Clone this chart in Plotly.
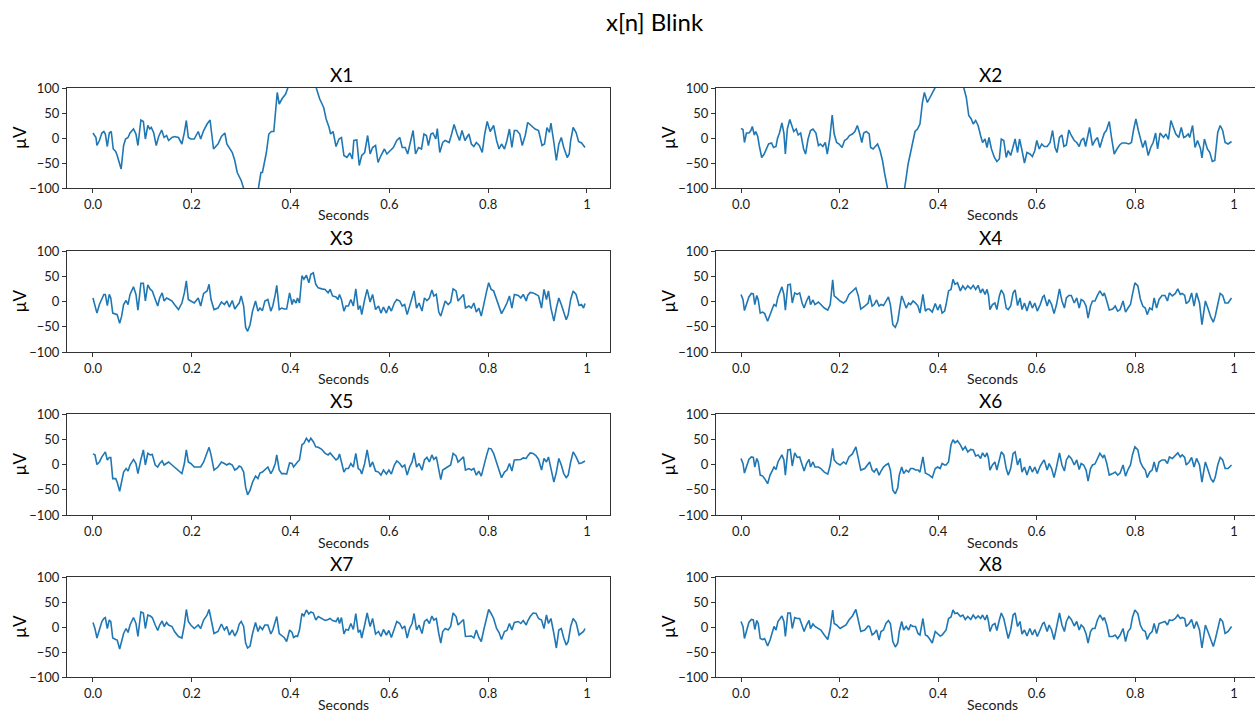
import plotly.graph_objects as go

# ---------------- data (seconds, microvolts) ----------------
t1 = [0.000,0.006,0.008,0.013,0.018,0.022,0.025,0.029,0.033,0.037,
      0.041,0.046,0.049,0.057,0.062,0.066,0.071,0.075,0.082,0.087,
      0.091,0.097,0.102,0.106,0.111,0.115,0.118,0.123,0.128,0.133,
      0.139,0.144,0.149,0.153,0.160,0.165,0.173,0.180,0.185,0.189,
      0.193,0.198,0.205,0.213,0.218,0.224,0.231,0.237,0.244,0.253,
      0.260,0.267,0.271,0.276,0.282,0.287,0.292,0.300,0.305,0.315,
      0.322,0.328,0.335,0.340,0.343,0.347,0.351,0.356,0.361,0.366,
      0.370,0.373,0.377,0.383,0.390,0.395,0.405,0.420,0.435,0.452,
      0.459,0.467,0.472,0.478,0.481,0.486,0.492,0.498,0.503,0.508,
      0.514,0.520,0.525,0.528,0.534,0.539,0.544,0.550,0.556,0.561,
      0.566,0.572,0.577,0.583,0.590,0.595,0.601,0.608,0.615,0.621,
      0.626,0.632,0.637,0.643,0.648,0.653,0.659,0.665,0.670,0.675,
      0.679,0.684,0.688,0.694,0.697,0.702,0.708,0.713,0.721,0.726,
      0.731,0.737,0.742,0.747,0.753,0.761,0.766,0.771,0.776,0.782,
      0.788,0.793,0.798,0.804,0.811,0.817,0.822,0.827,0.833,0.838,
      0.843,0.848,0.853,0.858,0.864,0.869,0.875,0.880,0.888,0.895,
      0.902,0.909,0.914,0.919,0.924,0.927,0.933,0.938,0.943,0.948,
      0.953,0.960,0.964,0.967,0.972,0.978,0.983,0.989,0.996]
x1 = [10,1,-15,-5,10,13,8,-17,10,13,
      -22,-27,-35,-62,-15,-2,1,10,18,8,
      -15,36,33,-2,25,18,21,10,-15,3,
      16,1,5,-5,1,3,1,-12,11,35,
      1,-2,-2,13,-2,15,28,36,-22,-12,
      3,10,-12,-19,-29,-45,-69,-85,-100,-140,
      -155,-130,-100,-69,-69,-49,-29,8,13,13,
      65,91,68,79,88,100,130,150,140,100,
      78,61,38,21,8,13,-17,-2,1,-35,
      -39,-30,-42,-5,-4,-55,-35,-29,5,-32,
      -19,-15,-49,-35,-22,-32,-25,-19,-5,1,
      -19,-19,-32,-5,15,-32,-19,-22,8,5,
      -15,8,10,-2,19,-29,-9,-5,-9,8,
      27,8,-5,15,-5,8,-12,-17,-9,-15,
      -29,8,33,13,25,-5,-22,-12,-22,-5,
      18,-19,15,15,8,-15,5,31,25,18,
      15,-15,-12,21,11,30,-9,-45,-12,1,
      -19,-39,-32,-5,21,11,-7,-10,-19]

t2 = [0.000,0.004,0.007,0.011,0.016,0.020,0.023,0.027,0.030,0.034,
      0.037,0.042,0.047,0.052,0.056,0.062,0.066,0.071,0.074,0.078,
      0.083,0.087,0.090,0.094,0.099,0.103,0.107,0.112,0.116,0.121,
      0.127,0.131,0.136,0.141,0.146,0.152,0.157,0.161,0.166,0.171,
      0.175,0.180,0.185,0.189,0.194,0.199,0.205,0.210,0.215,0.220,
      0.226,0.231,0.236,0.241,0.245,0.249,0.254,0.260,0.263,0.268,
      0.273,0.277,0.282,0.287,0.291,0.296,0.305,0.315,0.325,0.332,
      0.335,0.339,0.344,0.349,0.353,0.358,0.363,0.368,0.372,0.378,
      0.383,0.388,0.392,0.405,0.420,0.437,0.452,0.457,0.462,0.467,
      0.471,0.476,0.481,0.486,0.490,0.495,0.499,0.503,0.508,0.514,
      0.519,0.524,0.528,0.533,0.538,0.542,0.547,0.552,0.556,0.561,
      0.565,0.570,0.575,0.580,0.586,0.591,0.596,0.600,0.605,0.610,
      0.615,0.621,0.627,0.632,0.637,0.641,0.646,0.651,0.655,0.660,
      0.665,0.670,0.676,0.681,0.686,0.690,0.695,0.699,0.704,0.707,
      0.713,0.718,0.723,0.728,0.733,0.737,0.741,0.747,0.752,0.757,
      0.762,0.768,0.773,0.780,0.787,0.792,0.796,0.801,0.806,0.810,
      0.815,0.820,0.826,0.831,0.836,0.841,0.845,0.850,0.857,0.862,
      0.867,0.872,0.876,0.882,0.888,0.893,0.898,0.902,0.907,0.910,
      0.916,0.921,0.926,0.932,0.935,0.940,0.946,0.951,0.956,0.961,
      0.967,0.972,0.977,0.982,0.988,0.995]
x2 = [19,17,-9,10,10,15,23,6,13,3,
      -15,-39,-32,-19,-12,-10,-19,-17,-1,10,
      30,10,-32,18,37,25,13,18,6,10,
      -22,-32,-2,15,18,10,-15,-12,-17,-9,
      -32,-2,46,8,-9,-12,-19,-5,-2,5,
      8,13,25,8,-9,10,13,8,-19,-22,
      -17,-12,-25,-45,-69,-100,-140,-160,-130,-100,
      -79,-52,-29,-2,13,18,28,71,91,71,
      81,91,100,130,150,135,100,81,45,38,
      28,35,25,5,-9,-2,-19,1,-22,-39,
      -47,-42,-2,-5,-39,-25,-35,-17,-2,-29,
      -2,-25,-50,-29,-32,-37,-25,-5,-22,-12,
      -17,-17,-9,15,-19,-29,1,6,-17,-14,
      16,5,-5,-9,-17,-5,0,-17,5,21,
      -15,-5,1,-19,-2,10,15,33,-2,-32,
      -23,-14,-10,-10,-12,-9,15,38,15,-2,
      -19,-5,-35,-19,-9,10,-22,10,1,8,
      -3,35,25,8,1,21,1,3,8,1,
      25,-19,-5,-21,-40,-2,-22,-29,-47,-45,
      11,25,15,-9,-12,-7]

# shared sample times for the left-column channels X3, X5, X7
t_left = [0.000,0.004,0.008,0.013,0.018,0.022,0.025,0.029,0.033,0.036,
          0.040,0.046,0.049,0.054,0.058,0.062,0.067,0.071,0.075,0.082,
          0.087,0.091,0.097,0.102,0.106,0.111,0.116,0.120,0.126,0.131,
          0.135,0.140,0.144,0.149,0.153,0.160,0.165,0.173,0.180,0.185,
          0.189,0.193,0.198,0.205,0.213,0.218,0.224,0.231,0.235,0.239,
          0.245,0.253,0.260,0.266,0.271,0.276,0.282,0.287,0.292,0.296,
          0.300,0.305,0.309,0.313,0.318,0.323,0.329,0.334,0.338,0.343,
          0.348,0.354,0.360,0.364,0.369,0.372,0.377,0.382,0.387,0.392,
          0.398,0.403,0.406,0.411,0.414,0.418,0.423,0.427,0.432,0.437,
          0.441,0.446,0.451,0.456,0.463,0.470,0.476,0.480,0.485,0.492,
          0.496,0.499,0.503,0.508,0.512,0.517,0.522,0.527,0.532,0.537,
          0.541,0.544,0.550,0.555,0.561,0.566,0.572,0.578,0.583,0.588,
          0.594,0.599,0.604,0.610,0.615,0.621,0.626,0.631,0.636,0.641,
          0.646,0.650,0.655,0.660,0.666,0.671,0.676,0.681,0.686,0.690,
          0.695,0.700,0.704,0.708,0.713,0.719,0.724,0.729,0.735,0.739,
          0.745,0.750,0.754,0.761,0.766,0.771,0.776,0.781,0.786,0.791,
          0.797,0.801,0.806,0.811,0.817,0.822,0.827,0.833,0.838,0.843,
          0.848,0.853,0.861,0.866,0.871,0.877,0.880,0.885,0.891,0.897,
          0.902,0.908,0.913,0.918,0.922,0.927,0.933,0.938,0.943,0.948,
          0.953,0.958,0.962,0.967,0.972,0.978,0.984,0.989,0.993,0.996]
x3 = [7,-6,-23,-6,7,14,14,-8,14,7,
      -23,-26,-26,-43,-29,-6,2,-6,14,29,
      14,-17,36,36,1,33,24,21,4,-9,
      7,17,1,7,5,1,-6,-16,-3,17,
      41,4,1,-3,7,-9,16,21,34,4,
      -16,-13,-1,-6,1,-11,2,-15,-8,-3,
      11,-9,-51,-59,-46,-19,1,-19,-13,-18,
      1,4,-19,-9,14,32,-16,-13,-15,-15,
      17,-6,4,-3,7,-3,51,44,52,37,
      54,57,34,27,25,24,17,24,11,9,
      4,14,4,-19,-9,-9,4,-9,25,-16,
      -8,-26,4,24,-1,14,-16,-9,-23,-11,
      -23,-9,-19,-3,4,1,-9,-6,-26,-9,
      4,21,-13,-3,-19,7,2,7,23,11,
      14,-21,-29,-13,1,-6,-1,25,21,1,
      7,14,-13,-9,-13,-3,-21,-13,-29,-3,
      21,37,24,21,4,-13,-24,-13,-3,11,
      -13,14,12,7,14,1,12,18,17,14,
      11,-13,24,4,21,-13,-39,-13,7,-6,
      -19,-36,-26,4,21,14,-8,-6,-13,-4]
x5 = [21,19,0,5,15,22,25,9,14,14,
      -28,-28,-35,-53,-31,-15,-8,-13,-1,10,
      2,-18,10,29,-1,22,19,20,-1,-5,
      2,7,-1,2,5,-1,-5,-11,-18,2,
      29,5,2,-5,-5,-5,5,23,34,19,
      -11,-5,5,2,-1,2,-1,-11,-8,-3,
      -5,-15,-45,-60,-51,-35,-23,-28,-17,-15,
      -10,-5,-18,-11,2,19,-11,-18,-18,-19,
      3,2,-5,2,5,9,39,42,52,45,
      52,45,35,34,30,22,19,23,17,9,
      12,21,5,-15,-8,-8,2,-5,22,-8,
      -11,-19,2,29,-5,5,-13,-15,-21,-11,
      -19,-11,-19,-1,7,2,-5,-1,-21,-5,
      5,23,-5,2,-11,9,14,5,19,10,
      15,-15,-30,-11,-8,-5,-1,22,17,5,
      10,15,-11,-8,-11,-8,-21,-13,-23,-1,
      19,32,31,22,5,-8,-26,-15,-11,2,
      -13,9,10,10,13,12,17,23,22,17,
      10,-11,12,5,15,-5,-35,-15,12,-1,
      -18,-26,-21,5,25,15,2,3,5,7]
x7 = [9,-3,-22,-6,11,17,19,-3,14,11,
      -22,-25,-26,-44,-29,-13,-3,-11,4,19,
      7,-19,30,28,-3,24,22,19,4,-7,
      4,12,1,9,4,1,-9,-19,-22,4,
      35,11,4,-3,4,-3,14,24,35,14,
      -13,-9,6,-6,1,-16,-6,-18,-9,6,
      11,1,-32,-42,-38,-13,9,-9,1,-5,
      4,4,-14,-6,11,21,-13,-18,-21,-29,
      -6,-11,-21,-18,-19,-6,27,22,34,26,
      30,28,14,21,17,13,15,17,13,11,
      19,7,19,-14,-5,-6,7,-5,27,-11,
      -6,-22,4,28,1,17,-14,-9,-19,-5,
      -16,-7,-21,-3,11,7,-3,2,-22,-3,
      7,27,-6,4,-13,11,15,7,22,14,
      17,-13,-32,-9,-3,-6,1,28,21,4,
      11,15,-19,-19,-18,-22,-6,-21,-29,-6,
      21,35,27,17,-3,-11,-25,-9,-7,7,
      -6,9,11,7,13,4,12,21,28,27,
      17,14,-3,24,7,17,-13,-42,-6,-3,
      -22,-36,-29,1,17,9,-16,-13,-9,-3]

# shared sample times for the right-column channels X4, X6, X8
t_right = [0.000,0.004,0.007,0.012,0.016,0.021,0.025,0.028,0.032,0.035,
           0.039,0.044,0.048,0.054,0.059,0.064,0.067,0.071,0.075,0.083,
           0.087,0.090,0.095,0.100,0.104,0.109,0.114,0.119,0.124,0.128,
           0.133,0.138,0.141,0.146,0.150,0.157,0.162,0.169,0.176,0.181,
           0.186,0.189,0.194,0.201,0.208,0.213,0.219,0.226,0.233,0.238,
           0.243,0.251,0.258,0.261,0.266,0.270,0.275,0.280,0.284,0.289,
           0.294,0.299,0.303,0.308,0.313,0.318,0.321,0.326,0.330,0.335,
           0.340,0.344,0.349,0.354,0.359,0.363,0.369,0.374,0.378,0.382,
           0.388,0.394,0.399,0.404,0.408,0.413,0.416,0.421,0.426,0.430,
           0.434,0.439,0.445,0.450,0.455,0.460,0.466,0.471,0.476,0.481,
           0.486,0.490,0.495,0.499,0.502,0.505,0.510,0.515,0.519,0.524,
           0.528,0.533,0.538,0.542,0.547,0.552,0.556,0.561,0.566,0.570,
           0.575,0.580,0.586,0.591,0.596,0.601,0.607,0.612,0.615,0.621,
           0.625,0.630,0.635,0.640,0.646,0.651,0.656,0.660,0.665,0.670,
           0.676,0.681,0.686,0.690,0.695,0.700,0.704,0.709,0.713,0.718,
           0.723,0.728,0.734,0.737,0.742,0.747,0.754,0.759,0.764,0.769,
           0.775,0.780,0.785,0.790,0.794,0.799,0.805,0.810,0.815,0.820,
           0.824,0.829,0.834,0.838,0.843,0.848,0.854,0.860,0.865,0.869,
           0.875,0.881,0.886,0.891,0.895,0.900,0.903,0.909,0.914,0.919,
           0.924,0.930,0.935,0.939,0.942,0.947,0.953,0.958,0.962,0.967,
           0.972,0.977,0.982,0.988,0.995]
x4 = [14,4,-18,-3,9,16,15,-6,12,3,
      -23,-21,-24,-39,-24,-13,-6,-9,9,29,
      14,-17,33,34,-3,17,14,17,-3,-13,
      1,11,-6,3,-6,-1,-6,-13,-17,-6,
      43,11,7,1,-3,1,14,21,27,11,
      -15,-9,-3,13,-9,-6,3,-9,-6,-8,
      1,9,-6,-46,-51,-39,-19,11,1,-13,
      -3,-6,1,-3,-9,-23,14,-19,-15,-15,
      -21,-4,-17,-6,-23,-19,-6,21,24,44,
      34,37,21,31,24,31,25,32,24,32,
      17,25,14,24,12,-16,-6,-3,-16,11,
      23,14,-13,-16,-9,17,23,-8,7,-16,
      -3,-19,1,-13,-3,-19,-6,9,12,-9,
      4,-6,-24,-6,25,1,-13,7,12,12,
      -3,7,-13,4,1,-9,-33,-9,1,1,
      12,21,11,17,1,-17,-15,-9,-19,-16,
      1,-21,-13,-6,14,37,31,5,-9,-13,
      -26,-13,-16,7,-13,4,12,12,1,17,
      11,16,25,14,16,12,-4,1,17,-9,
      17,-3,-46,-16,1,-13,-31,-41,-29,-6,
      16,12,-3,-3,7]
x6 = [12,2,-17,-1,10,15,14,-5,12,5,
      -21,-23,-28,-38,-21,-11,-5,-10,5,19,
      9,-21,29,30,-3,23,14,15,-3,-13,
      2,10,-5,5,-5,-5,-8,-15,-19,-1,
      32,9,3,-1,5,1,15,21,35,12,
      -11,-8,2,5,-11,-15,-8,-21,-13,-5,
      -1,2,-11,-51,-58,-46,-21,-5,-18,-11,
      -15,-8,-8,-11,-11,-15,15,-17,-19,-21,
      -26,-8,-5,-8,2,-1,-1,5,39,49,
      43,47,39,29,35,25,30,29,17,19,
      12,23,15,23,12,-11,-1,5,-11,12,
      25,19,-8,-21,-8,22,25,-1,12,-15,
      -5,-21,-3,-15,-5,-18,-3,5,9,-11,
      2,-8,-26,-5,23,-1,-13,9,17,12,
      -1,9,-10,2,-1,-11,-33,-8,-1,1,
      12,22,14,19,2,-21,-18,-15,-21,-17,
      -1,-23,-10,-1,19,35,29,5,-5,-11,
      -26,-15,-11,5,-15,5,9,9,2,15,
      12,17,23,15,19,14,-1,5,14,-5,
      12,-1,-35,-11,5,-10,-28,-35,-25,-1,
      14,9,-8,-8,-1]
x8 = [11,1,-23,-6,9,15,14,-5,13,7,
      -23,-25,-23,-38,-26,-9,1,-6,11,22,
      11,-19,28,28,-3,19,17,17,4,-9,
      4,13,-3,6,1,-3,-6,-16,-25,-3,
      34,7,4,-3,2,4,14,22,35,11,
      -9,-6,2,1,-16,-13,-6,-26,-9,-6,
      7,13,7,-29,-40,-32,-9,11,-6,1,
      -6,4,1,1,-13,-16,17,-16,-18,-23,
      -32,-9,-13,-18,-16,-9,-6,17,20,34,
      27,28,21,24,15,21,15,24,17,22,
      17,24,14,24,11,-9,4,7,-7,14,
      28,17,-9,-23,-6,24,28,1,11,-14,
      -6,-18,-3,-16,-5,-19,-5,7,9,-9,
      4,-6,-25,-3,28,4,-9,11,21,15,
      2,11,-6,4,-1,-14,-32,-9,-3,-3,
      14,24,14,19,4,-19,-19,-16,-23,-16,
      -3,-29,-9,-3,19,34,27,4,-6,-9,
      -25,-14,-9,7,-13,7,9,11,4,14,
      13,17,24,17,19,17,1,7,15,-3,
      11,-6,-42,-13,4,-9,-26,-39,-25,-3,
      17,11,-13,-9,1]

channel_names = ["X1", "X2", "X3", "X4", "X5", "X6", "X7", "X8"]
x_tick_vals = [0.0, 0.2, 0.4, 0.6, 0.8, 1.0]
x_tick_text = ["0.0", "0.2", "0.4", "0.6", "0.8", "1"]
y_tick_vals = [-100, -50, 0, 50, 100]

series = [(t1, x1), (t2, x2), (t_left, x3), (t_right, x4),
          (t_left, x5), (t_right, x6), (t_left, x7), (t_right, x8)]

# ---------------- layout geometry (pixels) ----------------
W, H = 1255, 713
FONT = "Lato, 'Open Sans', sans-serif"
rows_px = [(88, 188), (251, 352), (414, 515), (577, 677)]
cols_px = [(67, 610), (716, 1255)]
col_label_x = [341, 990]          # centre of the (full, partly cropped) axes
col_ranges = [[-0.0526, 1.0466], [-0.0507, 1.0426]]
LINE = "#1f77b4"
AX = "#333333"
TXT = "#1a1a1a"

fig = go.Figure()
layout = dict(
    width=W, height=H, autosize=False,
    margin=dict(l=0, r=0, t=0, b=0, autoexpand=False),
    paper_bgcolor="white", plot_bgcolor="white",
    showlegend=False,
    font=dict(family=FONT, color=TXT),
)
annotations = []

for i, (tt, vv) in enumerate(series):
    if len(tt) != len(vv):
        raise ValueError(f"{channel_names[i]}: {len(tt)} times vs {len(vv)} values")
    r, c = divmod(i, 2)
    top, bot = rows_px[r]
    left, right = cols_px[c]
    n = i + 1
    xa = "x" if n == 1 else f"x{n}"
    ya = "y" if n == 1 else f"y{n}"
    fig.add_trace(go.Scatter(x=tt, y=vv, mode="lines",
                             line=dict(color=LINE, width=1.6),
                             xaxis=xa, yaxis=ya, hoverinfo="skip"))
    common = dict(showline=True, linecolor=AX, linewidth=1,
                  ticks="outside", ticklen=4, tickwidth=1, tickcolor=AX,
                  showgrid=False, zeroline=False,
                  tickfont=dict(family=FONT, size=13, color=TXT))
    layout["xaxis" if n == 1 else f"xaxis{n}"] = dict(
        domain=[left / W, right / W], range=col_ranges[c], mirror=True,
        anchor=ya, tickvals=x_tick_vals, ticktext=x_tick_text, **common)
    # right column's right edge is cropped off in the reference
    layout["yaxis" if n == 1 else f"yaxis{n}"] = dict(
        domain=[1 - bot / H, 1 - top / H], range=[-100, 100],
        mirror=(c == 0),
        anchor=xa, tickvals=y_tick_vals, **common)
    cx = col_label_x[c] / W
    annotations.append(dict(text=channel_names[i], x=cx, y=1 - (top - 14) / H,
                            xref="paper", yref="paper", showarrow=False,
                            xanchor="center", yanchor="middle",
                            font=dict(family=FONT, size=19, color="black")))
    annotations.append(dict(text="Seconds", x=cx + 2 / W, y=1 - (bot + 27) / H,
                            xref="paper", yref="paper", showarrow=False,
                            xanchor="center", yanchor="middle",
                            font=dict(family=FONT, size=14, color=TXT)))
    annotations.append(dict(text="µV", x=(left - 48) / W, y=1 - (top + bot) / 2 / H,
                            xref="paper", yref="paper", showarrow=False,
                            xanchor="center", yanchor="middle", textangle=-90,
                            font=dict(family=FONT, size=17, color="black")))

annotations.append(dict(text="x[n] Blink", x=655 / W, y=1 - 22 / H,
                        xref="paper", yref="paper", showarrow=False,
                        xanchor="center", yanchor="middle",
                        font=dict(family=FONT, size=24, color="black")))
layout["annotations"] = annotations
fig.update_layout(**layout)

page_fix = (
    "document.documentElement.style.margin='0';"
    "document.body.style.margin='0';"
    "document.body.style.padding='0';"
    "document.body.style.overflow='hidden';"
)
fig.write_html("out.html", post_script=page_fix,
               config={"responsive": False, "displayModeBar": False})
